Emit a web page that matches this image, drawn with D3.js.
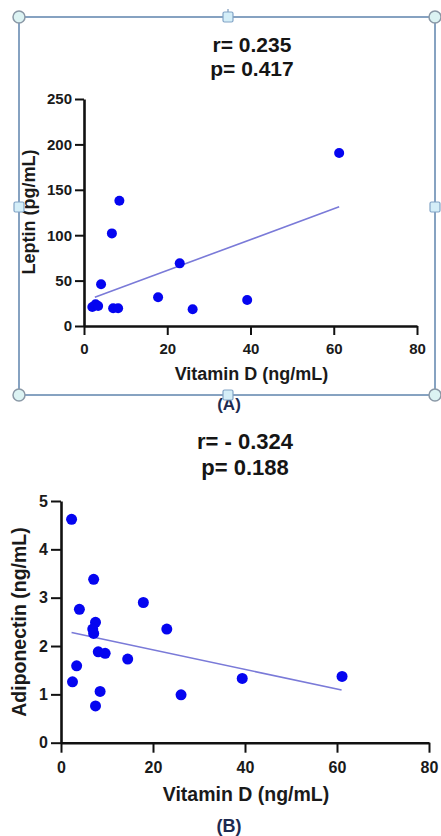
<!DOCTYPE html>
<meta charset="utf-8">
<style type="text/css">
body { margin: 0; background: #fff; }
svg { font-family: "Liberation Sans", Arial, Helvetica, sans-serif; font-weight: bold; }
.axis path, .axis line { stroke: #111; }
.axis text { fill: #1a1a1a; font-weight: bold; }
.fit { fill: none; stroke: #7a7ad8; stroke-width: 1.6px; }
</style>
<body>
<script src="https://d3js.org/d3.v7.min.js"></script>
<script>
// panel A: leptin vs vitamin D
let vitDA   = [2.0, 2.8, 3.4, 4.1, 6.7, 8.5, 7.0, 8.2, 17.8, 23.0, 26.1, 39.2, 61.3];
let leptin  = [21, 24, 22, 46, 102, 138, 19.5, 19.5, 31.6, 69, 18.4, 28.6, 190.5];
let fitA    = [[2.6, 31.6], [61.3, 131.4]];
let statsA  = ["r= 0.235", "p= 0.417"];

// panel B: adiponectin vs vitamin D
let vitDB   = [2.3, 7.1, 4.0, 17.9, 7.5, 23.0, 6.9, 7.1, 8.1, 9.6, 14.5, 3.4, 2.5, 8.5, 7.5, 26.1, 39.4, 61.1];
let adipo   = [4.62, 3.38, 2.76, 2.90, 2.49, 2.35, 2.35, 2.26, 1.88, 1.85, 1.73, 1.59, 1.26, 1.06, 0.76, 0.99, 1.33, 1.37];
let fitB    = [[2.3, 2.28], [61.0, 1.09]];
let statsB  = ["r= - 0.324", "p= 0.188"];

let xTicks  = [0, 20, 40, 60, 80];
let yTicksA = [0, 50, 100, 150, 200, 250];
let yTicksB = [0, 1, 2, 3, 4, 5];

let svg = d3.select("body").append("svg")
    .attr("width", 441)
    .attr("height", 836);

function panel(o) {
    let x = d3.scaleLinear().domain([0, 80]).range(o.xr);
    let y = d3.scaleLinear().domain(o.yd).range(o.yr);
    let g = svg.append("g");

    // stats text
    o.stats.forEach(function(s, i) {
        g.append("text")
            .attr("x", o.titleX).attr("y", o.titleY[i])
            .attr("text-anchor", "middle")
            .attr("font-size", o.titleSize)
            .attr("fill", "#151515")
            .text(s);
    });

    let xa = g.append("g").attr("class", "axis")
        .attr("transform", "translate(0," + o.yr[0] + ")")
        .call(d3.axisBottom(x).tickValues(xTicks).tickFormat(d3.format("d"))
            .tickSize(o.tick).tickSizeOuter(0).tickPadding(o.xPad));
    let ya = g.append("g").attr("class", "axis")
        .attr("transform", "translate(" + o.xr[0] + ",0)")
        .call(d3.axisLeft(y).tickValues(o.yTicks).tickFormat(d3.format("d"))
            .tickSize(o.tick).tickSizeOuter(0).tickPadding(3));
    [xa, ya].forEach(function(a) {
        a.attr("font-family", null).attr("font-size", o.tickSize);
        a.select(".domain").attr("stroke-width", 2.6);
        a.selectAll(".tick line").attr("stroke-width", 2);
    });

    // fit line
    g.append("path")
        .attr("class", "fit")
        .attr("d", d3.line().x(d => x(d[0])).y(d => y(d[1]))(o.fit));

    // points
    g.selectAll("circle.pt")
        .data(o.xs)
        .enter().append("circle")
        .attr("class", "pt")
        .attr("cx", d => x(d))
        .attr("cy", (d, i) => y(o.ys[i]))
        .attr("r", o.r)
        .attr("fill", "#0505f0");

    // axis labels
    g.append("text")
        .attr("x", (o.xr[0] + o.xr[1]) / 2 + 1).attr("y", o.xLabY)
        .attr("text-anchor", "middle")
        .attr("font-size", o.labSize)
        .attr("fill", "#1a1a1a")
        .text("Vitamin D (ng/mL)");
    g.append("text")
        .attr("transform", "translate(" + o.yLabX + "," + o.yLabY + ") rotate(-90)")
        .attr("text-anchor", "middle")
        .attr("font-size", o.labSize)
        .attr("fill", "#1a1a1a")
        .text(o.yLabel);

    g.append("text")
        .attr("x", 229).attr("y", o.capY)
        .attr("text-anchor", "middle")
        .attr("font-size", o.capSize)
        .attr("fill", "#1d2a50")
        .text(o.cap);
}

panel({
    xr: [84, 417], yd: [0, 250], yr: [326, 99], yTicks: yTicksA,
    xs: vitDA, ys: leptin, fit: fitA, stats: statsA,
    titleX: 252, titleY: [52, 76], titleSize: 21,
    tick: 9, xPad: 8, tickSize: 15, labSize: 18, r: 5,
    xLabY: 380, yLabX: 35, yLabY: 212, yLabel: "Leptin (pg/mL)",
    cap: "(A)", capY: 410, capSize: 17
});

panel({
    xr: [61, 429], yd: [0, 5], yr: [742.7, 501], yTicks: yTicksB,
    xs: vitDB, ys: adipo, fit: fitB, stats: statsB,
    titleX: 245, titleY: [449, 475], titleSize: 22,
    tick: 10, xPad: 9, tickSize: 16, labSize: 19.5, r: 5.5,
    xLabY: 801, yLabX: 26, yLabY: 622, yLabel: "Adiponectin (ng/mL)",
    cap: "(B)", capY: 832, capSize: 18
});

// selection frame around panel A
let frame = svg.append("g");
let fx0 = 19, fx1 = 435, fy0 = 17, fy1 = 395, fxm = 228, fym = 207;
frame.append("rect")
    .attr("x", fx0).attr("y", fy0)
    .attr("width", fx1 - fx0).attr("height", fy1 - fy0)
    .attr("fill", "none").attr("stroke", "#5f84ad").attr("stroke-width", 1.5);
frame.append("line")
    .attr("x1", fxm).attr("x2", fxm).attr("y1", 9).attr("y2", fy0)
    .attr("stroke", "#5f84ad").attr("stroke-width", 1);
[[fx0, fy0], [fx1, fy0], [fx0, fy1], [fx1, fy1]].forEach(function(p) {
    frame.append("circle")
        .attr("cx", p[0]).attr("cy", p[1]).attr("r", 6)
        .attr("fill", "#dcf3f3").attr("stroke", "#8a98a6").attr("stroke-width", 1.5);
});
[[fxm, fy0], [fx0, fym], [fx1, fym], [fxm, fy1]].forEach(function(p) {
    frame.append("rect")
        .attr("x", p[0] - 5).attr("y", p[1] - 5).attr("width", 10).attr("height", 10)
        .attr("rx", 1.5)
        .attr("fill", "#d4eef8").attr("stroke", "#82a4c6").attr("stroke-width", 1.2);
});
</script>
</body>
